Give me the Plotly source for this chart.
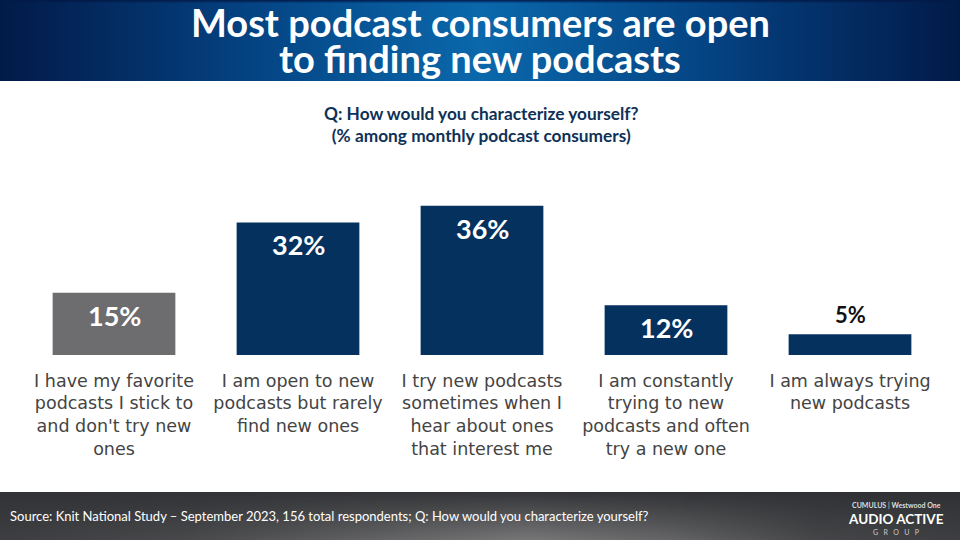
import plotly.graph_objects as go

categories = [
    "I have my favorite<br>podcasts I stick to<br>and don't try new<br>ones",
    "I am open to new<br>podcasts but rarely<br>find new ones",
    "I try new podcasts<br>sometimes when I<br>hear about ones<br>that interest me",
    "I am constantly<br>trying to new<br>podcasts and often<br>try a new one",
    "I am always trying<br>new podcasts",
]
values = [15, 32, 36, 12, 5]
bar_colors = ["#6d6c6f", "#05315f", "#05315f", "#05315f", "#05315f"]

# background bands, darkest at the edges
header_x = [0, 0.06, 0.15, 0.3, 0.5, 0.7, 0.85, 0.94, 1]
header_z = [0.0, 0.12, 0.3, 0.62, 1.0, 0.62, 0.3, 0.12, 0.0]
header_top = [0.0, 0.0, 0.05, 0.1, 0.15, 0.1, 0.05, 0.0, 0.0]
footer_x = [0, 0.2, 0.4, 0.55, 0.7, 0.85, 1]
footer_top = [0.05, 0.05, 0.08, 0.08, 0.05, 0.03, 0.03]
footer_bottom = [0.2, 0.35, 0.7, 0.95, 0.7, 0.3, 0.2]

NAVY = "#0f3157"
LABEL_FONT = "DejaVu Sans"
HEAD_FONT = "Lato"


def page_text(fig, x, y, text, size, color, xanchor="center"):
    # x, y are in pixels from the top left of the slide
    fig.add_annotation(
        x=x / 960, y=1 - y / 540, xref="paper", yref="paper", showarrow=False,
        xanchor=xanchor, yanchor="middle", text=text,
        font=dict(family=HEAD_FONT, size=size, color=color),
    )


fig = go.Figure()

fig.add_trace(go.Heatmap(
    x=header_x, y=[0, 0.96, 1], z=[header_z, header_z, header_top], xaxis="x2", yaxis="y2",
    zmin=0, zmax=1, zsmooth="best", showscale=False, hoverinfo="skip",
    colorscale=[[0, "#021a48"], [0.5, "#04407f"], [1, "#0a68ab"]],
))
fig.add_trace(go.Heatmap(
    x=footer_x, y=[0, 1], z=[footer_bottom, footer_top], xaxis="x3", yaxis="y3",
    zmin=0, zmax=1, zsmooth="best", showscale=False, hoverinfo="skip",
    colorscale=[[0, "#2e2f32"], [1, "#7b7b7c"]],
))

fig.add_trace(go.Bar(
    x=categories, y=values, width=0.667, marker_color=bar_colors, marker_line_width=0,
))

for category, value in zip(categories, values):
    small = value < 10
    fig.add_annotation(
        x=category, y=value, text=f"<b>{value}%</b>", showarrow=False,
        yanchor="bottom" if small else "top",
        yshift=4 if small else -4,
        font=dict(family=HEAD_FONT, size=22 if small else 27, color="#111111" if small else "white"),
    )

page_text(fig, 480, 22, "<b>Most podcast consumers are open</b>", 38, "white")
page_text(fig, 480, 58, "<b>to finding new podcasts</b>", 38, "white")
page_text(fig, 481, 124, "<b>Q: How would you characterize yourself?<br>(% among monthly podcast consumers)</b>", 17.3, NAVY)
page_text(fig, 8, 516, "Source: Knit National Study – September 2023, 156 total respondents; Q: How would you characterize yourself?",
          13, "white", xanchor="left")
# logo lockup in the footer
page_text(fig, 896, 504.5, "<b>CUMULUS</b> | <b>Westwood One</b>", 7, "#dddddd")
page_text(fig, 896, 518.5, "<b>AUDIO ACTIVE</b>", 13.5, "white")
page_text(fig, 896, 532, "G   R   O   U   P", 7, "#cccccc")

fig.update_layout(
    width=960, height=540, margin=dict(l=0, r=0, t=0, b=0),
    paper_bgcolor="white", plot_bgcolor="white", showlegend=False,
    xaxis=dict(
        domain=[22 / 960, 942 / 960], type="category", showgrid=False, showline=False,
        ticks="", ticklabelstandoff=13, tickangle=0, automargin=False,
        tickfont=dict(family=LABEL_FONT, size=17.5, color="#444444"),
    ),
    yaxis=dict(domain=[1 - 355 / 540, 1 - 205 / 540], range=[0, 36.2], visible=False),
    xaxis2=dict(domain=[0, 1], range=[0, 1], visible=False, anchor="y2"),
    yaxis2=dict(domain=[1 - 81 / 540, 1], range=[0, 1], visible=False, anchor="x2"),
    xaxis3=dict(domain=[0, 1], range=[0, 1], visible=False, anchor="y3"),
    yaxis3=dict(domain=[0, 1 - 492 / 540], range=[0, 1], visible=False, anchor="x3"),
)

# the page default leaves an 8px margin around the figure
fig.write_html("out.html", config=dict(displayModeBar=False), post_script="document.body.style.margin = '0';")
